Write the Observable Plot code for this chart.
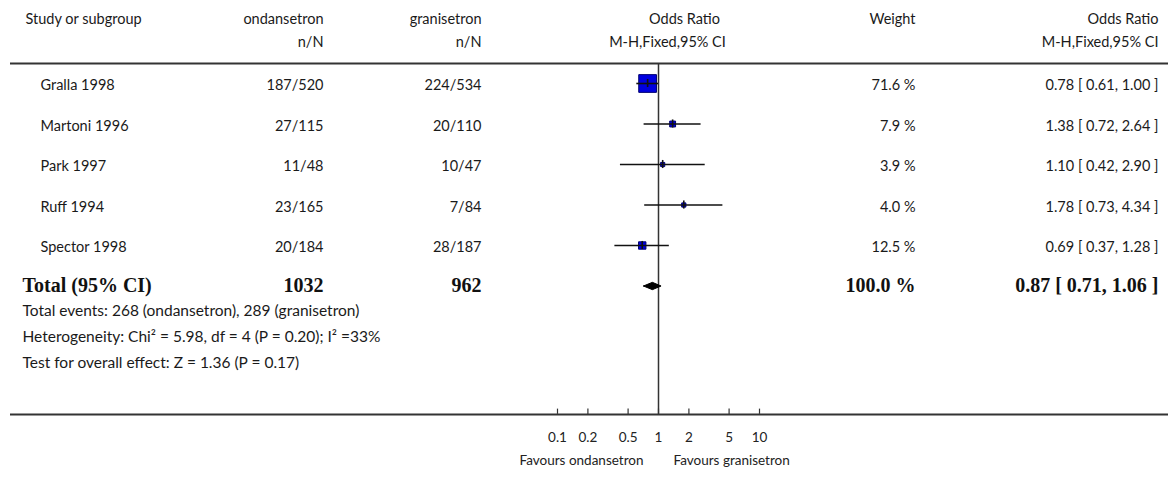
<!DOCTYPE html>
<html>
<head>
<meta charset="utf-8">
<script src="https://cdn.jsdelivr.net/npm/d3@7"></script>
<script src="https://cdn.jsdelivr.net/npm/@observablehq/plot@0.6"></script>
<style>
  html, body { margin: 0; padding: 0; background: #fff; }
  #chart svg { display: block; }
</style>
</head>
<body>
<div id="chart"></div>
<script>
// ---------- data ----------
const studies = ["Gralla 1998", "Martoni 1996", "Park 1997", "Ruff 1994", "Spector 1998"];
const ondEvents = [187, 27, 11, 23, 20];
const ondTotal = [520, 115, 48, 165, 184];
const graEvents = [224, 20, 10, 7, 28];
const graTotal = [534, 110, 47, 84, 187];
const weights = [71.6, 7.9, 3.9, 4.0, 12.5];
const orEst = [0.78, 1.38, 1.10, 1.78, 0.69];
const orLow = [0.61, 0.72, 0.42, 0.73, 0.37];
const orHigh = [1.00, 2.64, 2.90, 4.34, 1.28];

const totalLabel = "Total (95% CI)";
const totalN = [1032, 962];
const totalWeight = 100.0;
const totalOR = [0.87, 0.71, 1.06]; // estimate, low, high

const headers1 = ["Study or subgroup", "ondansetron", "granisetron", "Odds Ratio", "Weight", "Odds Ratio"];
const headers2 = ["", "n/N", "n/N", "M-H,Fixed,95% CI", "", "M-H,Fixed,95% CI"];
const footnotes = [
  "Total events: 268 (ondansetron), 289 (granisetron)",
  "Heterogeneity: Chi\u00B2 = 5.98, df = 4 (P = 0.20); I\u00B2 =33%",
  "Test for overall effect: Z = 1.36 (P = 0.17)"
];
const tickValues = [0.1, 0.2, 0.5, 1, 2, 5, 10];
const tickLabels = ["0.1", "0.2", "0.5", "1", "2", "5", "10"];
const favours = ["Favours ondansetron", "Favours granisetron"];

// ---------- layout (pixels / row units) ----------
const W = 1168, H = 477, ML = 10;
const col = {name: 40, head: 25, ond: 323, gra: 481, orHead1: 684, orHead2: 667, weight: 915, orText: 1158};
const rowY = {h1: -1.58, h2: -1.01, top: -0.494, total: 5, foot: [5.63, 6.27, 6.89], bottom: 8.17, tick: 8.74, fav: 9.31};
const font = "Lato, 'Open Sans', sans-serif";
const serif = "'Liberation Serif', 'DejaVu Serif', serif";
const fmt2 = d3.format(".2f");
const fmtW = d3.format(".1f");

const rows = studies.map((s, i) => ({
  i, study: s,
  ond: `${ondEvents[i]}/${ondTotal[i]}`,
  gra: `${graEvents[i]}/${graTotal[i]}`,
  w: weights[i],
  wText: `${fmtW(weights[i])} %`,
  est: orEst[i], lo: orLow[i], hi: orHigh[i],
  orText: `${fmt2(orEst[i])} [ ${fmt2(orLow[i])}, ${fmt2(orHigh[i])} ]`
}));

const headerCols = [
  {k: 0, x: col.head, anchor: "start"},
  {k: 1, x: col.ond, anchor: "end"},
  {k: 2, x: col.gra, anchor: "end"},
  {k: 3, x: col.orHead1, x2: col.orHead2, anchor: "middle"},
  {k: 4, x: col.weight, anchor: "end"},
  {k: 5, x: col.orText, anchor: "end"}
];

const left = (x) => x - ML; // dx from frame left
const textBase = {frameAnchor: "left", fontFamily: font, fontSize: 14.5, fill: "#1a1a1a"};

const marks = [];
// header text
headerCols.forEach(h => {
  marks.push(Plot.text([headers1[h.k]], {...textBase, y: () => rowY.h1, text: d => d, textAnchor: h.anchor, dx: left(h.x)}));
  if (headers2[h.k]) marks.push(Plot.text([headers2[h.k]], {...textBase, y: () => rowY.h2, text: d => d, textAnchor: h.anchor, dx: left(h.x2 ?? h.x)}));
});
// horizontal rules
marks.push(Plot.ruleY([rowY.top], {stroke: "#333", strokeWidth: 2}));
marks.push(Plot.ruleY([rowY.bottom], {stroke: "#333", strokeWidth: 2}));
// null line
marks.push(Plot.ruleX([1], {y1: rowY.top, y2: rowY.bottom, stroke: "#333", strokeWidth: 1.5}));

// study rows text
marks.push(Plot.text(rows, {...textBase, y: "i", text: "study", textAnchor: "start", dx: left(col.name), dy: 2}));
marks.push(Plot.text(rows, {...textBase, y: "i", text: "ond", textAnchor: "end", dx: left(col.ond), dy: 2}));
marks.push(Plot.text(rows, {...textBase, y: "i", text: "gra", textAnchor: "end", dx: left(col.gra), dy: 2}));
marks.push(Plot.text(rows, {...textBase, y: "i", text: "wText", textAnchor: "end", dx: left(col.weight), dy: 2}));
marks.push(Plot.text(rows, {...textBase, y: "i", text: "orText", textAnchor: "end", dx: left(col.orText), dy: 2}));

// squares, then CI lines and ticks drawn on top
marks.push(Plot.dot(rows, {x: "est", y: "i", r: "w", symbol: "square", fill: "#0000e0", stroke: "#000070", strokeWidth: 1}));
marks.push(Plot.ruleY(rows, {y: "i", x1: "lo", x2: "hi", stroke: "#111", strokeWidth: 1.6}));
marks.push(Plot.ruleX(rows, {x: "est", y1: d => d.i - 0.1, y2: d => d.i + 0.1, stroke: "#111", strokeWidth: 1.6}));

// total row
const totalBold = {frameAnchor: "left", fontFamily: serif, fontSize: 20, fontWeight: "bold", fill: "#111"};
marks.push(Plot.text([totalLabel], {...totalBold, y: () => rowY.total, text: d => d, textAnchor: "start", dx: left(col.head - 3)}));
marks.push(Plot.text([totalN[0]], {...totalBold, y: () => rowY.total, text: d => String(d), textAnchor: "end", dx: left(col.ond)}));
marks.push(Plot.text([totalN[1]], {...totalBold, y: () => rowY.total, text: d => String(d), textAnchor: "end", dx: left(col.gra)}));
marks.push(Plot.text([totalWeight], {...totalBold, y: () => rowY.total, text: d => `${fmtW(d)} %`, textAnchor: "end", dx: left(col.weight)}));
marks.push(Plot.text([totalOR], {...totalBold, y: () => rowY.total, text: d => `${fmt2(d[0])} [ ${fmt2(d[1])}, ${fmt2(d[2])} ]`, textAnchor: "end", dx: left(col.orText)}));
// diamond
const dh = 0.09;
const diamond = [
  {x: totalOR[1], y: rowY.total},
  {x: totalOR[0], y: rowY.total - dh},
  {x: totalOR[2], y: rowY.total},
  {x: totalOR[0], y: rowY.total + dh},
  {x: totalOR[1], y: rowY.total}
];
marks.push(Plot.line(diamond, {x: "x", y: "y", fill: "#000", stroke: "#000", strokeWidth: 1}));

// footnotes
footnotes.forEach((f, k) => {
  marks.push(Plot.text([f], {...textBase, fontSize: 15.5, y: () => rowY.foot[k], text: d => d, textAnchor: "start", dx: left(col.head - 3)}));
});

// axis ticks & labels
marks.push(Plot.ruleX(tickValues, {y1: rowY.bottom - 0.13, y2: rowY.bottom, stroke: "#333", strokeWidth: 1.2}));
marks.push(Plot.text(tickValues, {x: d => d, y: () => rowY.tick, text: (d, i) => tickLabels[i], fontFamily: font, fontSize: 13.5, fill: "#222"}));
marks.push(Plot.text([favours[0]], {x: () => 1, y: () => rowY.fav, text: d => d, textAnchor: "end", dx: -15, fontFamily: font, fontSize: 13.5, fill: "#222"}));
marks.push(Plot.text([favours[1]], {x: () => 1, y: () => rowY.fav, text: d => d, textAnchor: "start", dx: 15, fontFamily: font, fontSize: 13.5, fill: "#222"}));

const chart = Plot.plot({
  width: W, height: H,
  marginLeft: ML, marginRight: 0, marginTop: 0, marginBottom: 0,
  style: {background: "#fff", overflow: "visible"},
  x: {type: "log", domain: [0.1, 10], range: [557, 759], axis: null},
  y: {type: "linear", domain: [0, 4], range: [83, 245], axis: null},
  r: {type: "sqrt", domain: [0, 71.6], range: [0, 10]},
  marks
});
document.getElementById("chart").appendChild(chart);
</script>
</body>
</html>
